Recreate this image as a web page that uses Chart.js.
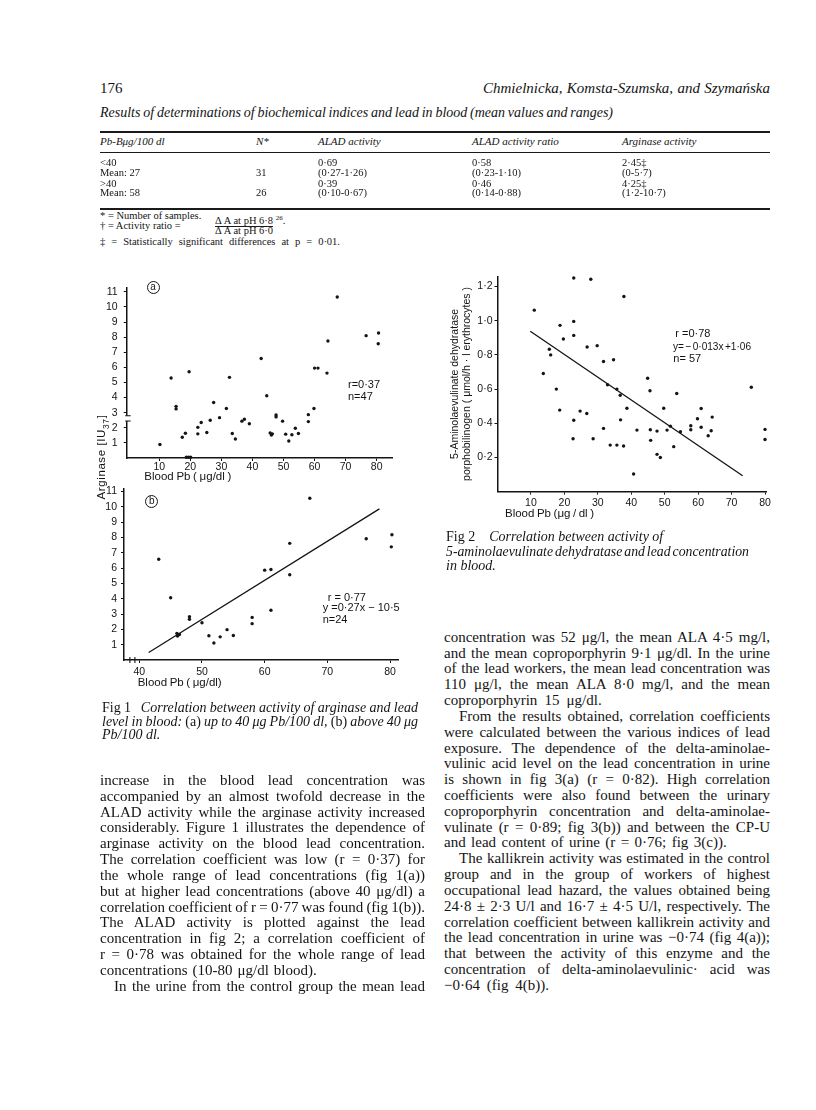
<!DOCTYPE html>
<html>
<head>
<meta charset="utf-8">
<title>Arginase, ALAD and blood lead</title>
<script src="https://cdn.jsdelivr.net/npm/chart.js@4.4.1/dist/chart.umd.min.js"></script>
<style>
  body { margin: 0; background: #fff; }
  #page { position: relative; width: 816px; height: 1110px; background: #fff; color: #141414;
          font-family: "Liberation Serif", serif; overflow: hidden; }
  .t { position: absolute; white-space: nowrap; display: inline-block; line-height: 16px; transform-origin: 0 50%; }
  .hd { font-size: 15px; }
  .i { font-style: italic; }
  .cap { font-size: 14px; font-style: italic; }
  .b { font-size: 15px; }
  .tb { font-size: 10.5px; line-height: 12px; }
  .th { font-size: 11px; }
  .s { font-family: "Liberation Sans", sans-serif; font-size: 11px; line-height: 12px; }
  .ax { font-family: "Liberation Sans", sans-serif; font-size: 11.5px; line-height: 14px; }
  .up { font-style: normal; }
  .rule { position: absolute; left: 100px; width: 670px; background: #1a1a1a; }
  .circ { position: absolute; width: 13px; height: 13px; box-sizing: border-box; border: 1.2px solid #141414;
          border-radius: 50%; font-family: "Liberation Sans", sans-serif; font-size: 10px; line-height: 10px; text-align: center; }
  .vlab { position: absolute; width: 0; height: 0; }
  .vlab span { position: absolute; left: 0; top: 0; white-space: nowrap; transform: translate(-50%, -50%) rotate(-90deg);
               font-family: "Liberation Sans", sans-serif; font-size: 11.5px; letter-spacing: 0.6px; }
  .sup { font-size: 7px; position: relative; top: -4px; }
  canvas { position: absolute; }
</style>
</head>
<body>
<div id="page">
  <canvas id="fig1a" width="305" height="210" style="left:95px;top:275px"></canvas>
  <canvas id="fig1b" width="310" height="205" style="left:95px;top:478px"></canvas>
  <canvas id="fig2" width="340" height="250" style="left:440px;top:268px"></canvas>

  <!-- running head -->
  <div class="t hd" style="left:100px;top:79.7px">176</div>
  <div class="t hd i fit" data-w="287" style="left:483px;top:79.7px">Chmielnicka, Komsta-Szumska, and Szymańska</div>
  <div class="t cap fit" data-w="513" style="left:100px;top:105.3px">Results of determinations of biochemical indices and lead in blood (mean values and ranges)</div>

  <div class="rule" style="top:130.7px;height:2px"></div>
  <div class="rule" style="top:152.1px;height:1.2px"></div>
  <div class="rule" style="top:208px;height:2px"></div>

  <!-- footnotes -->
  <div class="t tb" style="left:100px;top:210px">* = Number of samples.</div>
  <div class="t tb" style="left:100px;top:220px">† = Activity ratio =</div>
  <div class="t tb" style="left:215px;top:214.5px">Δ A at pH 6·8 <span class="sup">26</span>.</div>
  <div style="position:absolute;left:215px;top:225.6px;width:58px;height:1px;background:#1a1a1a"></div>
  <div class="t tb" style="left:215px;top:225px">Δ A at pH 6·0</div>
  <div class="t tb fit" data-w="240" style="left:100px;top:235.7px">‡ = Statistically significant differences at p = 0·01.</div>

  <!-- figure 1 labels -->
  <div class="circ" style="left:146.5px;top:280.7px">a</div>
  <div class="circ" style="left:145.2px;top:494.7px">b</div>
  <div class="vlab" style="left:103px;top:457px"><span>Arginase [IU<sub style="font-size:8.5px">37</sub>]</span></div>
  <div class="t ax fit" data-w="87" style="left:144.3px;top:468.5px">Blood Pb ( μg/dl )</div>
  <div class="t ax fit" data-w="84" style="left:137.7px;top:675.3px">Blood Pb ( μg/dl)</div>
  <div class="t s" style="left:348px;top:378px">r=0·37</div>
  <div class="t s" style="left:348px;top:389.5px">n=47</div>
  <div class="t s" style="left:327.7px;top:590.7px">r = 0·77</div>
  <div class="t s fit" data-w="77" style="left:322.7px;top:601.3px">y =0·27x − 10·5</div>
  <div class="t s" style="left:322.7px;top:612.7px">n=24</div>

  <!-- figure 2 labels -->
  <div class="t ax fit" data-w="89" style="left:505px;top:506.3px">Blood Pb (μg / dl )</div>
  <div class="t s" style="left:675.3px;top:327.3px">r =0·78</div>
  <div class="t s fit" data-w="78" style="left:673.3px;top:340px">y= − 0·013x +1·06</div>
  <div class="t s" style="left:673.3px;top:352.3px">n= 57</div>

  <!-- captions -->
  <div class="t cap fit" data-w="316" style="left:102px;top:700.3px"><span class="up">Fig 1</span>&nbsp;&nbsp; Correlation between activity of arginase and lead</div>
  <div class="t cap fit" data-w="316" style="left:102px;top:714.3px">level in blood: <span class="up">(a)</span> up to 40 μg Pb/100 dl, <span class="up">(b)</span> above 40 μg</div>
  <div class="t cap" style="left:102px;top:727px">Pb/100 dl.</div>

  <div class="t cap" style="left:446px;top:529px"><span class="up">Fig 2</span>&nbsp;&nbsp;&nbsp; Correlation between activity of</div>
  <div class="t cap fit" data-w="303" style="left:446px;top:543.7px">5-aminolaevulinate dehydratase and lead concentration</div>
  <div class="t cap" style="left:446px;top:558px">in blood.</div>
</div>

<script>
// ---- data ----
// Fig 1(a): all workers, blood Pb (ug/dl) vs arginase activity
const fig1aPb = [10.2, 13.8, 15.4, 15.4, 17.4, 18.4, 18.7, 19.4, 20.1, 19.6, 22.4, 22.4, 23.5, 25.3, 26.4, 27.5,
  29.4, 31.6, 32.6, 33.5, 34.5, 36.6, 37.4, 39.0, 42.8, 44.6, 45.7, 46.1, 46.4, 47.6, 47.6, 49.7, 50.7, 51.7,
  52.7, 53.8, 54.8, 58.0, 58.0, 59.8, 60.0, 61.1, 64.0, 64.3, 67.3, 76.6, 80.6, 80.5];
const fig1aArginase = [0.89, 5.30, 3.42, 3.25, 1.37, 1.64, 0.05, 0.05, 0.05, 5.71, 2.03, 1.60, 2.35, 1.69, 2.50, 3.67,
  2.67, 3.28, 5.34, 1.62, 1.26, 2.44, 2.57, 2.27, 6.59, 4.12, 1.66, 1.52, 1.60, 2.85, 2.72, 2.44, 1.58, 1.13,
  1.54, 1.97, 1.62, 2.87, 2.41, 3.28, 5.95, 5.95, 5.62, 7.75, 10.66, 8.10, 8.27, 7.56];

// Fig 1(b): above 40 ug/dl
const fig1bPb = [43.1, 45.0, 46.0, 46.1, 46.4, 48.0, 48.0, 50.0, 51.1, 51.9, 52.9, 54.0, 55.0, 58.0, 58.0, 60.0,
  61.0, 61.0, 64.0, 64.0, 67.2, 76.2, 80.3, 80.2];
const fig1bArginase = [6.57, 4.06, 1.74, 1.56, 1.66, 2.82, 2.65, 2.43, 1.58, 1.11, 1.51, 1.98, 1.60, 2.78, 2.37, 5.86,
  3.25, 5.90, 7.61, 5.56, 10.55, 7.91, 8.17, 7.38];
const fig1bFitPb = [41.5, 78.3];
const fig1bFitArginase = [0.49, 9.86];

// Fig 2: blood Pb vs ALAD activity
const fig2Pb = [11.0, 13.7, 15.5, 15.9, 17.6, 18.7, 18.6, 19.7, 22.8, 22.8, 22.8, 22.8, 22.6, 24.7, 26.8, 26.7,
  27.9, 28.6, 29.8, 31.7, 31.7, 32.9, 33.7, 34.7, 35.7, 35.7, 36.7, 36.8, 37.7, 37.8, 38.7, 40.7, 41.7, 44.9,
  45.6, 45.7, 45.8, 47.7, 47.7, 48.7, 49.7, 50.7, 51.7, 52.7, 53.6, 54.7, 57.8, 57.8, 59.8, 60.9, 60.9, 63.0,
  63.9, 64.2, 75.9, 80.0, 80.0];
const fig2Alad = [1.062, 0.691, 0.833, 0.80, 0.60, 0.973, 0.477, 0.893, 1.25, 0.996, 0.914, 0.418, 0.309, 0.471, 0.846, 0.457,
  1.243, 0.309, 0.854, 0.761, 0.370, 0.625, 0.272, 0.772, 0.272, 0.60, 0.564, 0.42, 0.267, 1.142, 0.488, 0.103, 0.36, 0.663,
  0.59, 0.362, 0.30, 0.354, 0.218, 0.20, 0.488, 0.36, 0.383, 0.263, 0.574, 0.35, 0.362, 0.385, 0.426, 0.486, 0.377, 0.327,
  0.356, 0.436, 0.611, 0.364, 0.305];
const fig2FitPb = [9.8, 73.3];
const fig2FitAlad = [0.938, 0.093];

// tick values
const fig1aXTicks = [10, 20, 30, 40, 50, 60, 70, 80];
const fig1bXTicks = [40, 50, 60, 70, 80];
const fig1YTicks = [1, 2, 3, 4, 5, 6, 7, 8, 9, 10, 11];
const fig2XTicks = [10, 20, 30, 40, 50, 60, 70, 80];
const fig2YTicks = [0.2, 0.4, 0.6, 0.8, 1.0, 1.2];

// table + body text
const tableCols = [100, 256, 318, 472, 622];
const tableHead = ['Pb-Bμg/100 dl', 'N*', 'ALAD activity', 'ALAD activity ratio', 'Arginase activity'];
const tableRows = [
  ['<40', '', '0·69', '0·58', '2·45‡'],
  ['Mean: 27', '31', '(0·27-1·26)', '(0·23-1·10)', '(0-5·7)'],
  ['>40', '', '0·39', '0·46', '4·25‡'],
  ['Mean: 58', '26', '(0·10-0·67)', '(0·14-0·88)', '(1·2-10·7)']
];
const tableRowY = [163.3, 173.3, 183.7, 193.3];

// [text, indent, width of a paragraph's last line (none = justified to column)]
const leftText = [
  ['increase in the blood lead concentration was'],
  ['accompanied by an almost twofold decrease in the'],
  ['ALAD activity while the arginase activity increased'],
  ['considerably. Figure 1 illustrates the dependence of'],
  ['arginase activity on the blood lead concentration.'],
  ['The correlation coefficient was low (r = 0·37) for'],
  ['the whole range of lead concentrations (fig 1(a))'],
  ['but at higher lead concentrations (above 40 μg/dl) a'],
  ['correlation coefficient of r = 0·77 was found (fig 1(b)).'],
  ['The ALAD activity is plotted against the lead'],
  ['concentration in fig 2; a correlation coefficient of'],
  ['r = 0·78 was obtained for the whole range of lead'],
  ['concentrations (10-80 μg/dl blood).', 0, 216.7],
  ['In the urine from the control group the mean lead', 14]
];
const rightText = [
  ['concentration was 52 μg/l, the mean ALA 4·5 mg/l,'],
  ['and the mean coproporphyrin 9·1 μg/dl. In the urine'],
  ['of the lead workers, the mean lead concentration was'],
  ['110 μg/l, the mean ALA 8·0 mg/l, and the mean'],
  ['coproporphyrin 15 μg/dl.', 0, 157.7],
  ['From the results obtained, correlation coefficients', 15],
  ['were calculated between the various indices of lead'],
  ['exposure. The dependence of the delta-aminolae-'],
  ['vulinic acid level on the lead concentration in urine'],
  ['is shown in fig 3(a) (r = 0·82). High correlation'],
  ['coefficients were also found between the urinary'],
  ['coproporphyrin concentration and delta-aminolae-'],
  ['vulinate (r = 0·89; fig 3(b)) and between the CP-U'],
  ['and lead content of urine (r = 0·76; fig 3(c)).', 0, 282.7],
  ['The kallikrein activity was estimated in the control', 15],
  ['group and in the group of workers of highest'],
  ['occupational lead hazard, the values obtained being'],
  ['24·8 ± 2·3 U/l and 16·7 ± 4·5 U/l, respectively. The'],
  ['correlation coefficient between kallikrein activity and'],
  ['the lead concentration in urine was −0·74 (fig 4(a));'],
  ['that between the activity of this enzyme and the'],
  ['concentration of delta-aminolaevulinic· acid was'],
  ['−0·64 (fig 4(b)).', 0, 105]
];

const INK = '#141414';
const page = document.getElementById('page');

function esc(s) { return s.replace(/&/g, '&amp;').replace(/</g, '&lt;').replace(/>/g, '&gt;'); }

function addText(cls, left, top, html, w) {
  const d = document.createElement('div');
  d.className = 't ' + cls + (w ? ' fit' : '');
  d.style.left = left + 'px';
  d.style.top = top + 'px';
  d.innerHTML = html;
  if (w) d.dataset.w = w;
  page.appendChild(d);
  return d;
}

function addColumn(lines, x0, colW, cy0, step) {
  lines.forEach((ln, i) => {
    const ind = ln[1] || 0;
    const w = ln[2] || (colW - ind);
    addText('b', x0 + ind, cy0 + i * step - 8, esc(ln[0]), w);
  });
}

tableHead.forEach((h, c) => addText('tb th i', tableCols[c], 141 - 6, esc(h)));
tableRows.forEach((row, r) => row.forEach((v, c) => { if (v) addText('tb', tableCols[c], tableRowY[r] - 6, esc(v)); }));

addColumn(leftText, 100, 325, 780, 15.82);
addColumn(rightText, 444, 326, 636.7, 15.83);

// squeeze / stretch each line to the width it has on the page
function fitLine(el) {
  const target = parseFloat(el.dataset.w);
  el.style.wordSpacing = '0px';
  el.style.transform = 'none';
  const w = el.getBoundingClientRect().width;
  const spaces = (el.textContent.match(/ /g) || []).length;
  let ws = spaces ? (target - w) / spaces : 0;
  ws = Math.max(ws, -1.5);
  el.style.wordSpacing = ws + 'px';
  const w2 = el.getBoundingClientRect().width;
  if (Math.abs(w2 - target) > 0.4) el.style.transform = `scaleX(${target / w2})`;
}
document.querySelectorAll('.fit').forEach(fitLine);

// ---- charts ----
Chart.defaults.font.family = '"Liberation Sans", sans-serif';
Chart.defaults.color = INK;

const xy = (xs, ys) => xs.map((x, i) => ({ x, y: ys[i] }));

// little axis-break marks drawn over the axis lines
const axisBreaks = {
  id: 'axisBreaks',
  afterDraw(chart, args, o) {
    const { ctx, chartArea, scales: { x, y } } = chart;
    ctx.save();
    ctx.strokeStyle = INK;
    ctx.fillStyle = '#fff';
    ctx.lineWidth = 1.1;
    if (o.y) {
      const a = y.getPixelForValue(o.y[1]), b = y.getPixelForValue(o.y[0]), ax = chartArea.left;
      ctx.fillRect(ax - 2, a, 4, b - a);
      ctx.beginPath();
      ctx.moveTo(ax - 1.5, a); ctx.lineTo(ax + 4, a);
      ctx.moveTo(ax - 1.5, b); ctx.lineTo(ax + 4, b);
      ctx.stroke();
    }
    if (o.x) {
      const ay = chartArea.bottom;
      ctx.beginPath();
      o.x.forEach(v => { const p = x.getPixelForValue(v); ctx.moveTo(p, ay - 3); ctx.lineTo(p, ay + 3); });
      ctx.stroke();
    }
    ctx.restore();
  }
};

function axis(o) {
  return {
    type: 'linear',
    min: o.min,
    max: o.max,
    afterBuildTicks: s => { s.ticks = o.ticks.map(v => ({ value: v })); },
    afterFit: s => { if (s.isHorizontal()) s.height = o.size; else s.width = o.size; },
    grid: { display: true, drawOnChartArea: false, drawTicks: true, tickLength: 3, color: INK, lineWidth: 1 },
    border: { display: true, color: INK, width: 1.5 },
    ticks: { padding: o.pad, autoSkip: false, maxRotation: 0, color: INK, font: { size: 10.5 },
             callback: o.fmt || (v => String(v)) },
    title: o.title || { display: false }
  };
}

function pointSet(xs, ys) {
  return { data: xy(xs, ys), showLine: false, pointRadius: 1.7, pointBackgroundColor: INK,
           pointBorderWidth: 0, clip: false };
}
function fitSet(xs, ys) {
  return { data: xy(xs, ys), showLine: true, borderColor: INK, borderWidth: 1.3, pointRadius: 0, fill: false };
}

function scatter(id, datasets, xAxis, yAxis, padding, breaks) {
  return new Chart(document.getElementById(id), {
    type: 'scatter',
    data: { datasets },
    options: {
      responsive: false,
      animation: false,
      events: [],
      layout: { padding },
      plugins: { legend: { display: false }, tooltip: { enabled: false }, axisBreaks: breaks || {} },
      scales: { x: xAxis, y: yAxis }
    },
    plugins: [axisBreaks]
  });
}

scatter('fig1a',
  [pointSet(fig1aPb, fig1aArginase)],
  axis({ min: -0.5, max: 85, ticks: fig1aXTicks, size: 27, pad: 0 }),
  axis({ min: 0, max: 11.3, ticks: fig1YTicks, size: 31.7, pad: 6 }),
  { top: 7.9, right: 7.8, left: 0, bottom: 0 },
  { y: [2.45, 2.8] });

scatter('fig1b',
  [pointSet(fig1bPb, fig1bArginase), fitSet(fig1bFitPb, fig1bFitArginase)],
  axis({ min: 37.56, max: 81.3, ticks: fig1bXTicks, size: 23, pad: 2.5 }),
  axis({ min: 0, max: 11.2, ticks: fig1YTicks, size: 29, pad: 4 }),
  { top: 7.6, right: 6.8, left: 0, bottom: 0 },
  { x: [38.5, 39.3] });

const dotDec = v => v.toFixed(1).replace('.', '·');
scatter('fig2',
  [pointSet(fig2Pb, fig2Alad), fitSet(fig2FitPb, fig2FitAlad)],
  axis({ min: 0, max: 80.5, ticks: fig2XTicks, size: 26.4, pad: 2.5 }),
  axis({ min: 0, max: 1.26, ticks: fig2YTicks, size: 57.5, pad: 2, fmt: dotDec,
         title: { display: true, color: INK, padding: { top: 9, bottom: 0 },
                  font: { size: 10.5, lineHeight: 1.14 },
                  text: ['5-Aminolaevulinate dehydratase', 'porphobilinogen ( μmol/h · l erythrocytes )'] } }),
  { top: 7.8, right: 13.3, left: 0, bottom: 0 });
</script>
</body>
</html>
